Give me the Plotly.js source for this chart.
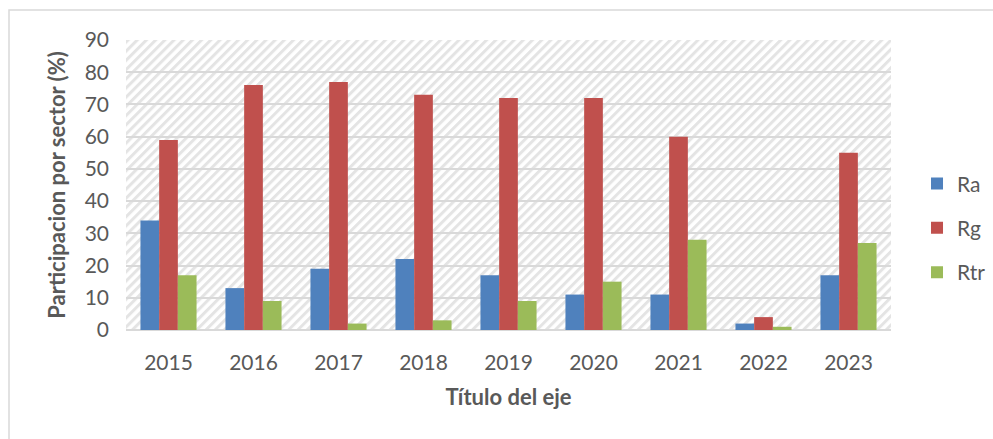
<!DOCTYPE html>
<html>
<head>
<meta charset="utf-8">
<script src="https://cdn.plot.ly/plotly-3.0.1.min.js"></script>
<style>html,body{margin:0;padding:0;background:#fff;}#chart{width:993px;height:439px;}</style>
</head>
<body>
<div id="chart"></div>
<script>
const years = ['2015','2016','2017','2018','2019','2020','2021','2022','2023'];
const ra  = [34, 13, 19, 22, 17, 11, 11, 2, 17];
const rg  = [59, 76, 77, 73, 72, 72, 60, 4, 55];
const rtr = [17, 9, 2, 3, 9, 15, 28, 1, 27];
const seriesNames = ['Ra', 'Rg', 'Rtr'];
const yTicks = [0,10,20,30,40,50,60,70,80,90];

const W = 993, H = 439;
const M = {l: 126, r: 102, t: 40, b: 109, autoexpand: false};
const PW = W - M.l - M.r, PH = H - M.t - M.b;

const svg = `<svg xmlns="http://www.w3.org/2000/svg" width="${PW}" height="${PH}" viewBox="0 0 ${PW} ${PH}" preserveAspectRatio="none">
<defs><pattern id="p" width="6.5" height="6.5" patternUnits="userSpaceOnUse" patternTransform="rotate(45)">
<rect x="0" y="0" width="3" height="6.5" fill="#e4e4e4"/></pattern></defs>
<rect width="${PW}" height="${PH}" fill="#ffffff"/>
<rect width="${PW}" height="${PH}" fill="url(#p)"/></svg>`;
const src = 'data:image/svg+xml;base64,' + btoa(svg);

const colors = ['#4f81bd', '#c0504d', '#9bbb59'];
const vals = [ra, rg, rtr];
const font = 'Lato, "Open Sans", sans-serif';

const traces = seriesNames.map((n, i) => ({
  type: 'bar', name: n, x: years, y: vals[i], legendgroup: n,
  marker: {color: colors[i], line: {width: 0}},
  hoverinfo: 'x+y+name'
}));

const layout = {
  width: W, height: H,
  margin: M,
  paper_bgcolor: '#ffffff',
  plot_bgcolor: 'rgba(0,0,0,0)',
  barmode: 'group', bargap: 0.34, bargroupgap: 0,
  font: {family: font, size: 21, color: '#595959'},
  xaxis: {
    type: 'category', showgrid: false, zeroline: false,
    showline: false, ticks: '', ticklabelstandoff: 18,
    tickfont: {size: 21, color: '#595959'},
    title: {text: 'Título del eje', font: {size: 22, color: '#595959', weight: 'bold'}, standoff: 16}
  },
  yaxis: {
    range: [0, 90], tickvals: yTicks, ticktext: yTicks.map(String),
    showgrid: true, gridcolor: '#d9d9d9', gridwidth: 2,
    zeroline: true, zerolinecolor: '#d9d9d9', zerolinewidth: 2,
    showline: false, ticks: '', ticklabelstandoff: 16,
    tickfont: {size: 21, color: '#595959'},
    title: {text: 'Participacion por sector (%)', font: {size: 22, color: '#595959', weight: 'bold'}, standoff: 12}
  },
  legend: {
    x: 1.034, xanchor: 'left', y: 0.352, yanchor: 'middle',
    font: {size: 21, color: '#595959'}, tracegroupgap: 14,
    bgcolor: 'rgba(0,0,0,0)', itemwidth: 30
  },
  images: [{
    source: src, xref: 'paper', yref: 'paper', x: 0, y: 1,
    sizex: 1, sizey: 1, sizing: 'stretch', layer: 'below',
    xanchor: 'left', yanchor: 'top'
  }],
  shapes: [{
    type: 'rect', xref: 'paper', yref: 'paper',
    x0: (9 - M.l) / PW, x1: (W + 5 - M.l) / PW,
    y0: -(H + 5 - M.t - PH) / PH, y1: (PH + M.t - 10) / PH,
    line: {color: '#d9d9d9', width: 1.5}, fillcolor: 'rgba(0,0,0,0)', layer: 'below'
  }],
  showlegend: true
};

Plotly.newPlot('chart', traces, layout, {displayModeBar: false, staticPlot: true});
</script>
</body>
</html>
